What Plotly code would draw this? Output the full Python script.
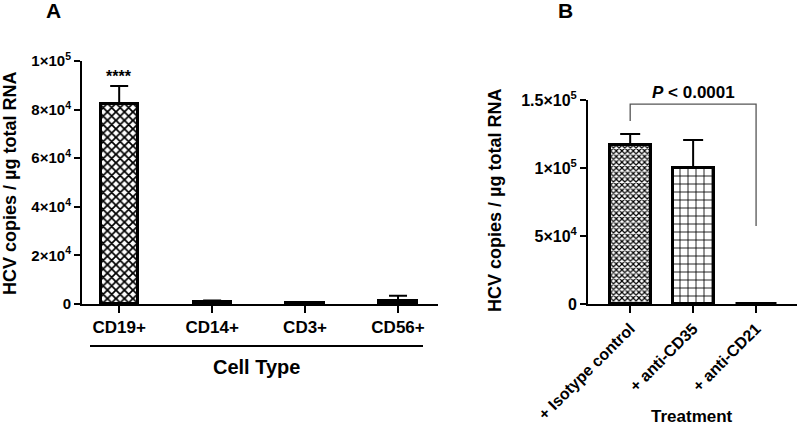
import plotly.graph_objects as go

# ---- Data ----
cell_types = ["CD19+", "CD14+", "CD3+", "CD56+"]
cell_means = [82300, 900, 250, 1200]
cell_sd = [7400, 500, 150, 2200]

treatments = ["+ Isotype control", "+ anti-CD35", "+ anti-CD21"]
treat_means = [117000, 100000, 300]
treat_sd = [8000, 20500, 200]

a_tickvals = [0, 20000, 40000, 60000, 80000, 100000]
a_ticktext = ["0", "2×10<sup>4</sup>", "4×10<sup>4</sup>", "6×10<sup>4</sup>",
              "8×10<sup>4</sup>", "1×10<sup>5</sup>"]
b_tickvals = [0, 50000, 100000, 150000]
b_ticktext = ["0", "5×10<sup>4</sup>", "1×10<sup>5</sup>", "1.5×10<sup>5</sup>"]

FONT = "Liberation Sans, Arial, sans-serif"
W, H = 800, 428

fig = go.Figure()

fig.add_trace(go.Bar(
    x=cell_types, y=cell_means, xaxis="x", yaxis="y", width=0.4,
    marker=dict(color="white", line=dict(color="black", width=3),
                pattern=dict(shape="x", size=6, solidity=0.5, fgcolor="black",
                             bgcolor="white", fillmode="replace")),
    error_y=dict(type="data", array=cell_sd, symmetric=False, color="black",
                 thickness=2, width=9),
    showlegend=False, cliponaxis=False))

fig.add_trace(go.Bar(
    x=treatments, y=treat_means, xaxis="x2", yaxis="y2", width=0.65,
    marker=dict(color="white", line=dict(color="black", width=3),
                pattern=dict(shape=["x", "+", "x"], size=[4, 8, 4],
                             solidity=[0.5, 0.2, 0.5], fgcolor="black",
                             bgcolor="white", fillmode="replace")),
    error_y=dict(type="data", array=treat_sd, symmetric=False, color="black",
                 thickness=2, width=10),
    showlegend=False, cliponaxis=False))

tickfont = dict(family=FONT, size=15, color="black", weight="bold")
axis_common = dict(showline=True, linecolor="black", linewidth=2, ticks="outside",
                   tickcolor="black", tickwidth=2, showgrid=False, zeroline=False,
                   automargin=False)

fig.update_layout(
    width=W, height=H, margin=dict(l=0, r=0, t=0, b=0, autoexpand=False),
    plot_bgcolor="white", paper_bgcolor="white", bargap=0,
    font=dict(family=FONT, color="black"),
    xaxis=dict(domain=[82 / W, 438 / W], range=[-0.4, 3.43], anchor="y",
               ticklen=7, tickfont=dict(tickfont, size=17), **axis_common),
    yaxis=dict(domain=[1 - 304 / H, 1 - 61 / H], range=[0, 100000], anchor="x",
               tickvals=a_tickvals, ticktext=a_ticktext, ticklen=6,
               tickfont=dict(tickfont, size=15), **axis_common),
    xaxis2=dict(domain=[588 / W, 797 / W], range=[-0.67, 2.65], anchor="y2",
                tickangle=-45, ticklen=7, tickfont=dict(tickfont, size=16),
                **axis_common),
    yaxis2=dict(domain=[1 - 304 / H, 1 - 100 / H], range=[0, 150000], anchor="x2",
                tickvals=b_tickvals, ticktext=b_ticktext, ticklen=6,
                tickfont=dict(tickfont, size=16), **axis_common),
)

bold = lambda s: f"<b>{s}</b>"


def pa(text, x, y, size, **kw):
    return dict(text=text, x=x / W, y=1 - y / H, xref="paper", yref="paper",
                xanchor="center", yanchor="middle", showarrow=False,
                font=dict(size=size), **kw)


ann = [
    pa(bold("A"), 53, 11, 21),
    pa(bold("B"), 565, 11, 21),
    pa(bold("HCV copies / µg total RNA"), 10, 184, 18, textangle=-90),
    pa(bold("HCV copies / µg total RNA"), 495, 201, 18, textangle=-90),
    pa(bold("Cell Type"), 256, 367, 20),
    pa(bold("Treatment"), 692, 416, 17),
]
# significance stars
ann.append(dict(text=bold("****"), x=cell_types[0], y=cell_means[0] + cell_sd[0],
                xref="x", yref="y", xanchor="center", yanchor="middle", yshift=10,
                showarrow=False, font=dict(size=16)))
# P value
bracket_top = 147000
ann.append(dict(text="<b><i>P</i> &lt; 0.0001</b>", x=1, y=bracket_top, xref="x2",
                yref="y2", xanchor="center", yanchor="middle", yshift=12,
                showarrow=False, font=dict(size=17)))
fig.update_layout(annotations=ann)

# bracket under category labels (panel A)
fig.add_shape(type="line", xref="paper", yref="paper", x0=90 / W, x1=423 / W,
              y0=1 - 346 / H, y1=1 - 346 / H, line=dict(color="black", width=2))
# significance bracket (panel B)
left_bottom = 134500
right_bottom = 57400
fig.add_shape(type="path", xref="x2", yref="y2",
              path=f"M 0 {left_bottom} L 0 {bracket_top} L 2 {bracket_top} L 2 {right_bottom}",
              line=dict(color="#555555", width=1.3))

fig.write_html("out.html", config={"displayModeBar": False},
               post_script="document.body.style.margin='0px';document.body.style.overflow='hidden';")
